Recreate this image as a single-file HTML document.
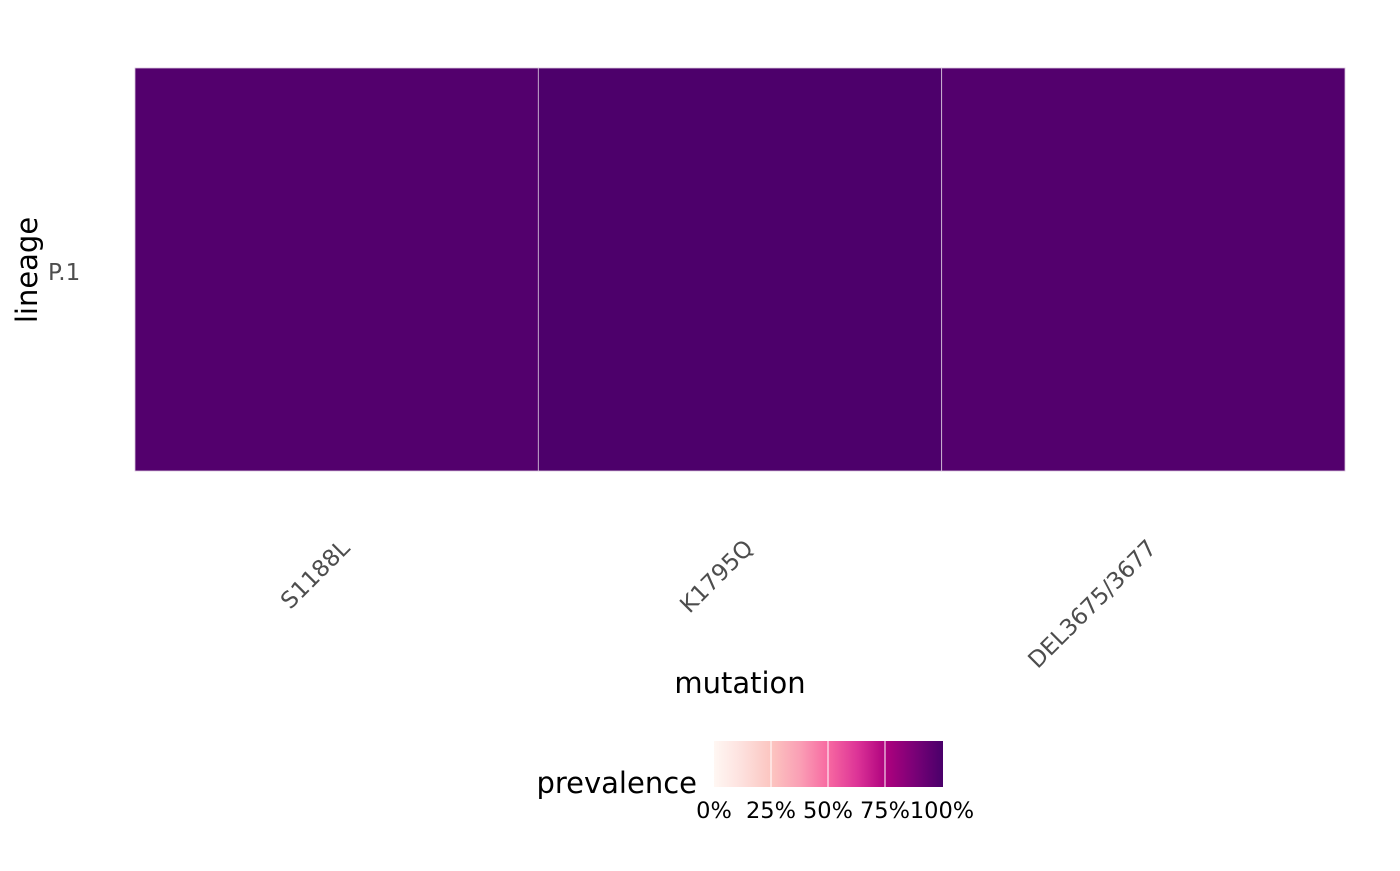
<!DOCTYPE html>
<html><head><meta charset="utf-8"><style>
body{margin:0;background:#fff;}
svg text{font-family:"DejaVu Sans","Liberation Sans",sans-serif;}
</style></head><body>
<svg id="c" width="1400" height="866" xmlns="http://www.w3.org/2000/svg">
<defs><linearGradient id="g" x1="0" x2="1" y1="0" y2="0">
<stop offset="0" stop-color="#fff7f3"/><stop offset="0.125" stop-color="#fde0dd"/><stop offset="0.25" stop-color="#fcc5c0"/><stop offset="0.375" stop-color="#fa9fb5"/><stop offset="0.5" stop-color="#f768a1"/><stop offset="0.625" stop-color="#dd3497"/><stop offset="0.75" stop-color="#ae017e"/><stop offset="0.875" stop-color="#7a0177"/><stop offset="1" stop-color="#49006a"/>
</linearGradient></defs>
<g id="cells"></g>
<text x="48" y="280" font-size="23" fill="#4d4d4d">P.1</text>
<text transform="translate(37,270) rotate(-90)" font-size="29" fill="#000" text-anchor="middle">lineage</text>
<g id="xt"></g>
<text x="740" y="693" font-size="29" fill="#000" text-anchor="middle">mutation</text>
<text x="697" y="793" font-size="29" fill="#000" text-anchor="end">prevalence</text>
<rect x="714" y="741" width="229" height="46" fill="url(#g)"/>
<g id="lg"></g>
</svg>
<script>
const categories=["S1188L","K1795Q","DEL3675/3677"];
const lineages=["P.1"];
const prevalence=[0.975,0.99,0.975];
const legendTicks=[0,0.25,0.5,0.75,1];
const legendLabels=["0%","25%","50%","75%","100%"];
const stops=["#fff7f3","#fde0dd","#fcc5c0","#fa9fb5","#f768a1","#dd3497","#ae017e","#7a0177","#49006a"];
function hx(h){return [1,3,5].map(i=>parseInt(h.substr(i,2),16));}
function col(v){const t=Math.max(0,Math.min(1,v))*(stops.length-1);const i=Math.min(stops.length-2,Math.floor(t));const f=t-i;const a=hx(stops[i]),b=hx(stops[i+1]);return "rgb("+a.map((x,k)=>Math.round(x+(b[k]-x)*f)).join(",")+")";}
const X0=135,X1=1345,Y0=68,Y1=471;
const bw=(X1-X0)/categories.length;
const xs=i=>X0+i*bw;
const ns="http://www.w3.org/2000/svg";
const cg=document.getElementById('cells'),xt=document.getElementById('xt'),lg=document.getElementById('lg');
categories.forEach((c,i)=>{
 const r=document.createElementNS(ns,'rect');
 r.setAttribute('x',xs(i));r.setAttribute('y',Y0);r.setAttribute('width',bw);r.setAttribute('height',Y1-Y0);
 r.setAttribute('fill',col(prevalence[i]));r.setAttribute('stroke','#d9c6dd');r.setAttribute('stroke-width','0.8');
 
 
 cg.appendChild(r);
 const t=document.createElementNS(ns,'text');
 const cx=xs(i)+bw/2, cy=538;
 t.setAttribute('transform','translate('+(cx+3)+','+cy+') rotate(-45)');
 t.setAttribute('text-anchor','end');t.setAttribute('font-size','23');t.setAttribute('fill','#4d4d4d');t.setAttribute('dy','0.7em');
 t.textContent=c;
 
 
 xt.appendChild(t);
});
const L0=714,L1=942;
const ls=v=>L0+v*(L1-L0);
legendTicks.forEach((v,i)=>{
 if(v>0&&v<1){const l=document.createElementNS(ns,'line');
 l.setAttribute('x1',ls(v));l.setAttribute('x2',ls(v));l.setAttribute('y1',741);l.setAttribute('y2',787);l.setAttribute('stroke','#fff');l.setAttribute('stroke-width','1');
 
 
 lg.appendChild(l);}
 const t=document.createElementNS(ns,'text');
 t.setAttribute('x',ls(v));t.setAttribute('y',818);t.setAttribute('text-anchor','middle');t.setAttribute('font-size','22.5');t.setAttribute('fill','#000');
 t.textContent=legendLabels[i];
 
 
 lg.appendChild(t);
});
</script>
</body></html>
